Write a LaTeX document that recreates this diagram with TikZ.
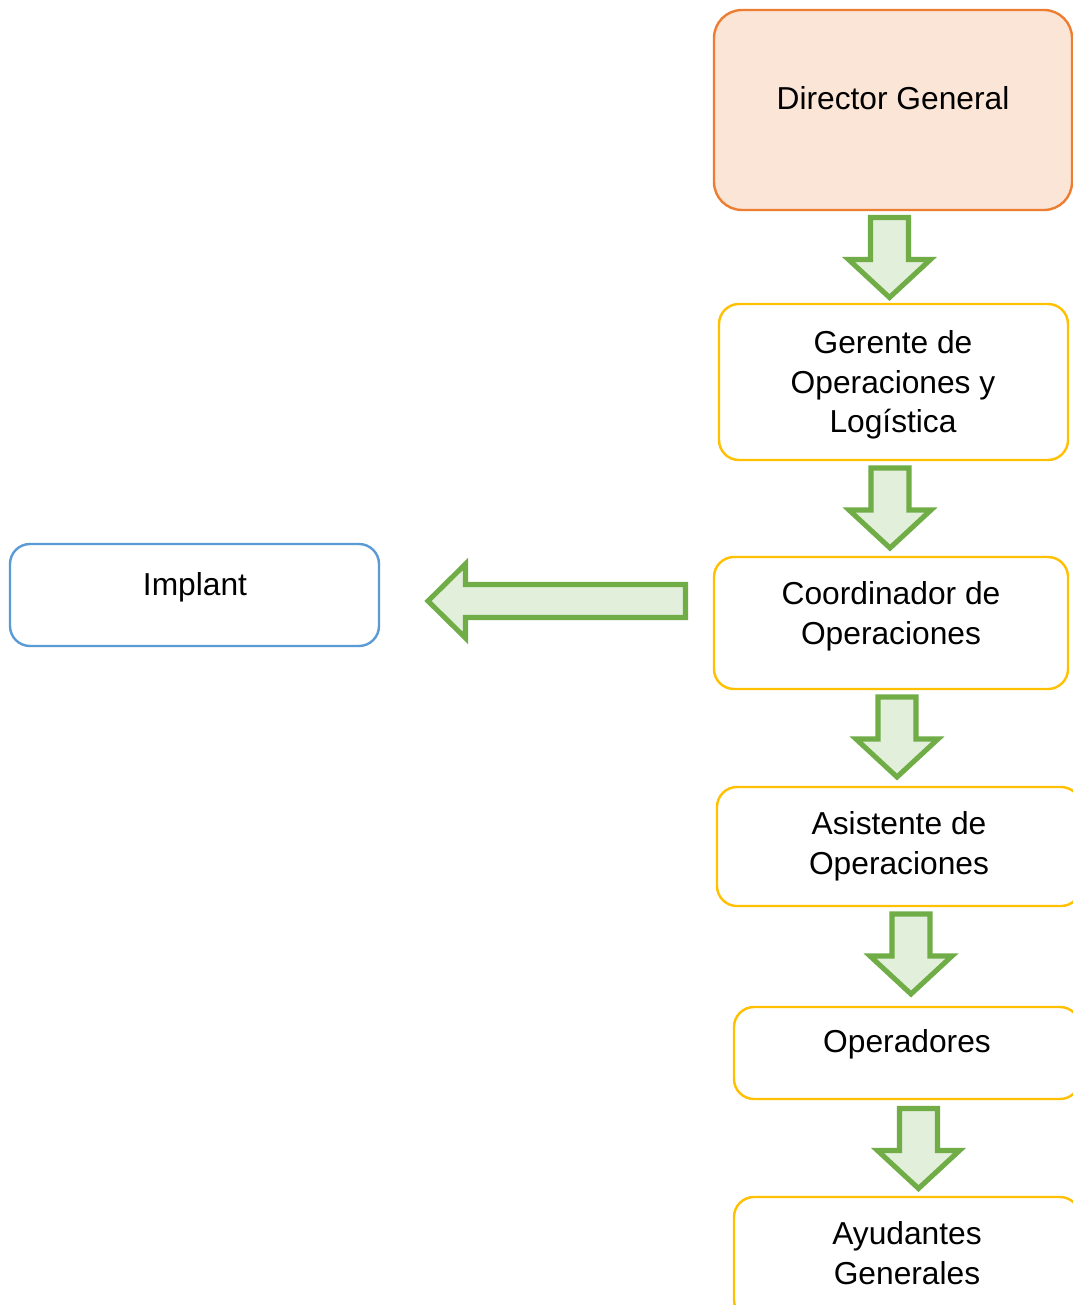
\documentclass[tikz,border=0pt]{standalone}
\usepackage{fontspec}
\setmainfont{Liberation Sans}
\definecolor{dgline}{HTML}{ED7D31}
\definecolor{dgfill}{HTML}{FBE5D6}
\definecolor{goldline}{HTML}{FFC000}
\definecolor{blueline}{HTML}{5B9BD5}
\definecolor{arrline}{HTML}{70AD47}
\definecolor{arrfill}{HTML}{E2EFDA}
\begin{document}
\begin{tikzpicture}[x=0.75pt,y=-0.75pt,
  box/.style={draw, line width=1.8pt, rounded corners=15pt, inner sep=0pt},
  topbox/.style={box, draw=dgline, fill=dgfill, rounded corners=21pt},
  rolebox/.style={box, draw=goldline, fill=white},
  sidebox/.style={box, draw=blueline, fill=white},
  lbl/.style={inner sep=0pt, align=center, font=\fontsize{23.8pt}{29.7pt}\selectfont},
  blk/.style={draw=arrline, fill=arrfill, line width=3.8pt, miter limit=10},
  downarrow/.pic={\draw[blk] (-19,0) -- (19,0) -- (19,42) -- (41,42) -- (0,80)
                    -- (-41,42) -- (-19,42) -- cycle;}]
\clip (0,0) rectangle (1073,1305);
\fill[white] (0,0) rectangle (1073,1305);

% boxes
\node[topbox, minimum width=268.5pt, minimum height=150pt] (dg) at (893,110) {};
\node[rolebox, minimum width=261.75pt, minimum height=117pt] (gr) at (893.5,382) {};
\node[rolebox, minimum width=265.5pt, minimum height=99pt] (co) at (891,623) {};
\node[rolebox, minimum width=273pt, minimum height=89.25pt] (as) at (899,846.5) {};
\node[rolebox, minimum width=259.5pt, minimum height=69pt] (op) at (907,1053) {};
\node[rolebox, minimum width=259.5pt, minimum height=92.25pt] (ay) at (907,1258.5) {};
\node[sidebox, minimum width=276.75pt, minimum height=76.5pt] (im) at (194.5,595) {};

% labels
\node[lbl] (dgt) at (893,98) {Director General};
\node[lbl] (grt) at (893,385) {Gerente de\\Operaciones y\\Logística};
\node[lbl] (cot) at (891,616.5) {Coordinador de\\Operaciones};
\node[lbl] (ast) at (899,846) {Asistente de\\Operaciones};
\node[lbl] (opt) at (907,1044) {Operadores};
\node[lbl] (ayt) at (907,1253) {Ayudantes\\Generales};
\node[lbl] (imt) at (195,587) {Implant};

% downward block arrows between levels
\pic at (889.5,217.5) {downarrow};
\pic at (890,468) {downarrow};
\pic at (897,697) {downarrow};
\pic at (911,914) {downarrow};
\pic at (918.5,1108.5) {downarrow};

% block arrow towards the implant box
\draw[blk] (685.5,584.5) -- (465.5,584.5) -- (465.5,564) -- (428,601)
  -- (465.5,638) -- (465.5,617.5) -- (685.5,617.5) -- cycle;
\end{tikzpicture}
\end{document}
